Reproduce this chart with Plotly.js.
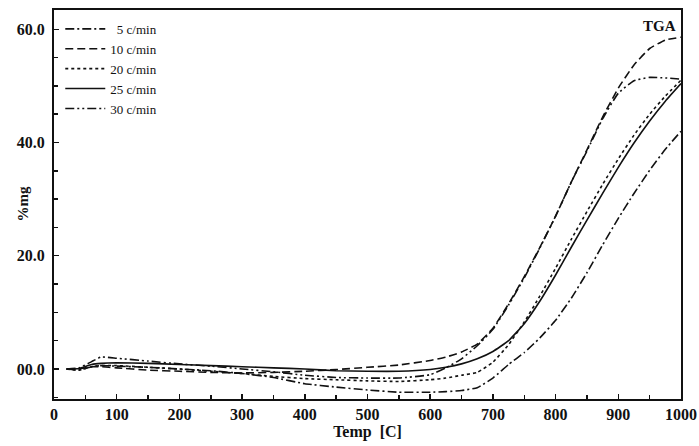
<!DOCTYPE html>
<html>
<head>
<meta charset="utf-8">
<script src="https://cdn.plot.ly/plotly-3.0.1.min.js"></script>
<style>html,body{margin:0;padding:0;background:#fff;}#chart{width:699px;height:446px;}</style>
</head>
<body>
<div id="chart"></div>
<script>
var temps = [20,40,60,75,100,150,200,250,300,350,400,450,500,550,600,625,650,675,700,725,750,775,800,825,850,875,900,925,950,975,1000];
var names = ["  5 c/min","10 c/min","20 c/min","25 c/min","30 c/min"];
var mg5  = [0,-0.2,0.4,0.6,0.5,0.3,0,-0.3,-0.8,-1.5,-2.6,-3.2,-3.7,-4.1,-4.1,-4.0,-3.8,-3.3,-1.6,0.8,2.9,5.5,8.6,12.5,17.0,21.9,26.6,31.0,35.1,38.8,42];
var mg10 = [0,0,0.4,0.4,0.2,-0.2,-0.4,-0.6,-0.7,-0.6,-0.4,-0.1,0.3,0.7,1.5,2.1,3,4.4,7.2,11.5,16.3,21.5,27,33,38.7,44.5,49.6,53.7,56.6,58.1,58.6];
var mg20 = [0,-0.2,0.4,0.6,0.6,0.3,0,-0.4,-0.8,-1.3,-1.7,-1.9,-2.1,-2.2,-1.9,-1.6,-1.1,-0.6,1.2,4.3,8.3,12.9,17.8,22.9,27.8,32.6,37.1,41.3,45.0,48.2,51];
var mg25 = [0,0.1,0.8,1.0,1.1,1.0,0.8,0.6,0.4,0.2,0,-0.3,-0.4,-0.4,-0.1,0.3,0.9,1.8,3.1,5.0,8.0,12.0,16.6,21.5,26.3,31.0,35.6,39.9,43.8,47.3,50.4];
var mg30 = [0,0.2,1.3,2.1,1.9,1.4,0.9,0.5,0,-0.5,-1.1,-1.5,-1.6,-1.6,-1.0,0.2,1.8,4.1,7.0,11.3,16.1,21.4,27,33,38.5,44.2,48.7,50.9,51.5,51.4,51.2];
var series = [mg5, mg10, mg20, mg25, mg30];
var yTickVals = [0,20,40,60];
var yTickText = ["00.0","20.0","40.0","60.0"];

var dashes = ["9px,3px,2px,3px","8px,4px","3px,3px","solid","9px,3px,2px,3px,2px,3px"];
var traces = series.map(function(s,i){
  return {x: temps, y: s, name: names[i], type:'scatter', mode:'lines',
          line:{color:'#111', width:1.6, dash:dashes[i], shape:'spline', smoothing:0.4}};
});
var F = '"Liberation Serif","Times New Roman",serif';
var layout = {
  width:699, height:446,
  margin:{l:54, r:18, t:10, b:47},
  paper_bgcolor:'#fff', plot_bgcolor:'#fff',
  showlegend:true,
  legend:{x:0.01, y:0.99, xanchor:'left', yanchor:'top', bgcolor:'rgba(0,0,0,0)',
          font:{family:F, size:13, color:'#111'}, itemwidth:40, tracegroupgap:0},
  xaxis:{range:[0,1000], tickvals:[0,100,200,300,400,500,600,700,800,900,1000],
         ticks:'inside', ticklen:5, tickwidth:1.5, tickcolor:'#111',
         minor:{dtick:50, ticks:'inside', ticklen:4, tickcolor:'#111'},
         showgrid:false, zeroline:false, showline:true, linecolor:'#111', linewidth:2, mirror:true,
         tickfont:{family:F, size:16, color:'#111', weight:'bold'},
         title:{text:'<b>Temp  [C]</b>', font:{family:F, size:16, color:'#111'}, standoff:4}},
  yaxis:{range:[-5.3,63.4], tickvals:yTickVals, ticktext:yTickText,
         ticks:'inside', ticklen:5, tickwidth:1.5, tickcolor:'#111',
         minor:{tickvals:[-5,5,10,15,25,30,35,45,50,55], ticks:'inside', ticklen:4, tickcolor:'#111'},
         showgrid:false, zeroline:false, showline:true, linecolor:'#111', linewidth:2, mirror:true,
         ticklabelstandoff:4,
         tickfont:{family:F, size:16, color:'#111', weight:'bold'}},
  annotations:[
    {text:'<b>TGA</b>', xref:'paper', yref:'paper', x:0.995, y:0.985, xanchor:'right', yanchor:'top',
     showarrow:false, font:{family:F, size:15, color:'#111'}},
    {text:'<b>%mg</b>', xref:'paper', yref:'paper', x:-0.051, y:0.5, xanchor:'center', yanchor:'middle',
     textangle:-90, showarrow:false, font:{family:F, size:15, color:'#111'}}
  ]
};
Plotly.newPlot('chart', traces, layout, {displayModeBar:false, staticPlot:true});
</script>
</body>
</html>
